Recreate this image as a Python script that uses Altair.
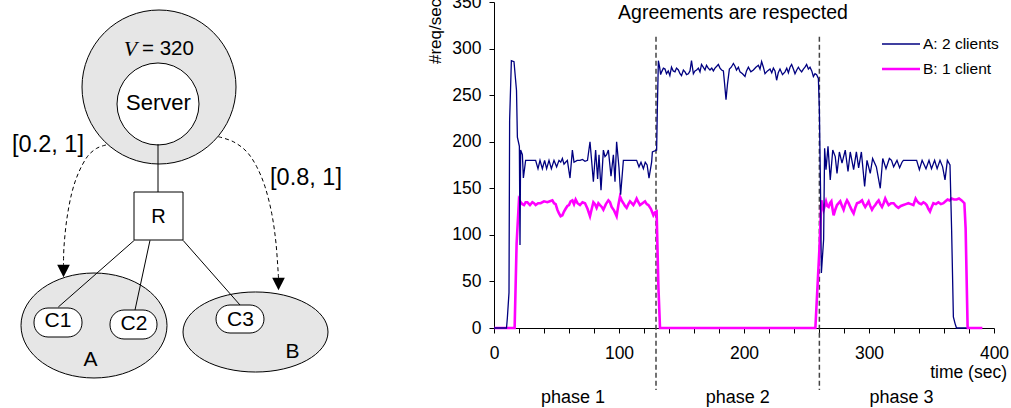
import altair as alt
import pandas as pd

FONT = "Liberation Sans"

# ---------------- chart data (time in s, rate in #req/sec) ----------------
series_a = [  # A: 2 clients (navy)
    (0, 0), (10, 0), (10.7, 11), (12, 38), (12.5, 223), (13.9, 287), (16, 286), (18, 255),
    (18.7, 205), (20.3, 195), (20.8, 89), (21.3, 191), (22.7, 186), (23.5, 161), (25.3, 180),
    (27, 180), (29, 180), (31, 180), (33.3, 180), (35.2, 171), (36.8, 180), (38.7, 171),
    (40.5, 180), (42.1, 171), (44, 180), (45.9, 171), (48, 180), (50.1, 173), (52, 180),
    (53.4, 178), (54.7, 182), (56, 176), (57.3, 178), (58.7, 180), (60.8, 161), (62.7, 191),
    (64, 178), (66.5, 180), (68.8, 180), (70.8, 181), (72.8, 179), (74.8, 180), (76.8, 200),
    (78.2, 178), (79.5, 157), (81.3, 191), (82.9, 160), (84, 186), (85.6, 148), (87.5, 191),
    (88.8, 184), (90.1, 186), (91.5, 191), (93.6, 163), (95.5, 186), (96.8, 157), (98.1, 200),
    (100, 172), (101.3, 143), (103.5, 180), (106, 180), (108.5, 180), (111, 180), (114.1, 180),
    (116, 173), (117.6, 178), (119.5, 171), (121, 178), (122.5, 175), (124, 161), (126.1, 178),
    (126.7, 189), (130.1, 191), (130.7, 237), (131.5, 287), (132.5, 280), (133.3, 272),
    (134.1, 275), (135.5, 279), (136.8, 278), (138, 273), (139.4, 276), (140.7, 271), (142, 280),
    (143.4, 276), (144.8, 275), (146, 279), (147.5, 277), (148.8, 273), (150, 271), (151.5, 277),
    (152.8, 275), (154, 272), (155.5, 273), (156.8, 276), (158, 287), (159.5, 273), (160.8, 276),
    (162.1, 277), (163.5, 279), (164.8, 275), (166, 283), (167.4, 280), (168.8, 277), (170, 282),
    (171.4, 279), (172.8, 277), (174.2, 279), (175.5, 276), (176.8, 279), (178.2, 281),
    (179.5, 283), (180.8, 279), (182.1, 277), (183.5, 276), (184.5, 262), (185.6, 245),
    (186.8, 262), (188.3, 278), (189.8, 280), (191.5, 284), (192.8, 281), (194, 277),
    (195.5, 280), (196.8, 275), (198.8, 273), (200.8, 270), (202, 276), (203.5, 280),
    (205.5, 275), (207.5, 277), (209.5, 280), (211.5, 282), (212.8, 278), (214.1, 286),
    (215.5, 280), (216.8, 273), (218.8, 276), (220.8, 278), (222.2, 274), (223.5, 279),
    (224.8, 276), (226.1, 266), (227.4, 274), (228.8, 278), (230.8, 272), (232.8, 275),
    (234.2, 279), (235.5, 274), (236.8, 280), (238.1, 283), (239.5, 278), (240.8, 273),
    (242.2, 277), (243.5, 280), (244.8, 277), (246.1, 275), (247.5, 278), (248.8, 280),
    (250.1, 283), (251.5, 278), (252.8, 280), (254.2, 276), (255.5, 270), (256.8, 273),
    (258.1, 272), (259.5, 268), (260.3, 234), (261.2, 150), (261.9, 59), (263.7, 95),
    (264.5, 193), (265.6, 170), (267.2, 195), (269, 159), (271, 191), (273, 184), (274.4, 166),
    (276.3, 189), (278.4, 177), (281, 191), (283.2, 168), (285, 189), (287.7, 170), (289.9, 189),
    (291.7, 172), (293.9, 189), (296.5, 152), (298.4, 180), (301, 166), (302.9, 182),
    (305.9, 173), (309, 150), (311, 182), (313.6, 171), (316.3, 182), (318, 180), (319.7, 173),
    (322.4, 180), (324.5, 172), (326.4, 178), (327.5, 180), (338.1, 180), (340.3, 170),
    (342.5, 180), (345.6, 171), (348, 180), (350, 171), (352.5, 180), (354.5, 171), (356.8, 180),
    (358.9, 173), (360.8, 159), (362.7, 180), (364.8, 175), (366.1, 105), (367.5, 12),
    (368.8, 5), (370, 0), (378, 0),
]

series_b = [  # B: 1 client (magenta)
    (0, 0), (16.5, 0), (18.1, 91), (20, 138), (21.3, 135), (22.7, 133), (24, 132), (25.3, 135),
    (26.7, 135), (28.8, 132), (30.7, 135), (32, 134), (33.3, 132), (35.3, 134), (37.3, 134),
    (40, 136), (42.7, 135), (44.7, 136), (46.7, 137), (48, 134), (49.3, 133), (50.7, 127),
    (52, 123), (53.3, 120), (54.7, 121), (56, 125), (57.3, 128), (58.7, 131), (60, 132),
    (61.3, 136), (62.7, 137), (64, 133), (65.3, 138), (66.8, 134), (68.8, 132), (70.8, 135),
    (72.8, 134), (74.8, 128), (76.8, 120), (78.2, 128), (79.5, 135), (80.8, 133), (82.1, 129),
    (83.5, 134), (84.8, 132), (86.2, 130), (87.5, 127), (89.5, 133), (91.5, 137), (92.8, 135),
    (94.1, 130), (96.1, 126), (98.1, 120), (99.5, 132), (100.8, 141), (102.1, 137), (103.5, 134),
    (104.8, 131), (106.1, 129), (107.5, 133), (108.8, 136), (110.2, 134), (111.5, 132),
    (112.8, 135), (114.1, 139), (115.5, 135), (116.8, 132), (118.8, 134), (120.8, 136),
    (122.2, 133), (123.5, 132), (125.5, 128), (127.5, 121), (128.8, 124), (130.1, 125),
    (131.5, 45), (132.8, 0), (257.1, 0), (260.3, 84), (261.9, 137), (263.7, 127), (265.6, 136),
    (266.6, 131), (267.7, 130), (268.8, 134), (269.9, 136), (270.8, 128), (271.7, 121),
    (273, 127), (274.4, 132), (275.7, 134), (277, 136), (278.4, 131), (279.7, 127), (281, 133),
    (282.4, 137), (283.7, 134), (285, 130), (286.4, 126), (287.7, 123), (289, 129), (290.4, 134),
    (292.4, 135), (294.4, 137), (295.7, 133), (297, 130), (298.4, 133), (299.7, 136), (301, 131),
    (302.4, 127), (303.7, 130), (305, 132), (306.4, 135), (307.7, 137), (309, 133), (310.4, 130),
    (311.7, 134), (313, 139), (314.4, 135), (315.7, 132), (317.7, 134), (319.7, 134),
    (321.6, 131), (323.5, 129), (325.5, 131), (327.5, 132), (329.5, 133), (331.5, 134),
    (333.5, 133), (335.5, 132), (337.3, 139), (338.6, 136), (340, 134), (341.8, 133),
    (343.5, 135), (344.8, 134), (346.1, 132), (347.5, 128), (348.8, 125), (350.2, 130),
    (351.5, 134), (353.5, 133), (355.5, 135), (357.5, 133), (359.5, 134), (361.2, 136),
    (362.9, 138), (364.5, 137), (366.1, 139), (368, 138), (370.1, 138), (372, 139), (374.1, 137),
    (376.3, 134), (377.3, 107), (378.9, 0), (390.7, 0),
]

phase_bounds = [129.6, 260.3]
phase_names = ["phase 1", "phase 2", "phase 3"]
phase_centers = [63.2, 195.0, 326.0]
x_ticks = list(range(0, 401, 20))
y_ticks = list(range(0, 351, 50))
legend_labels = ["A: 2 clients", "B: 1 client"]
NAVY = "#000080"
MAGENTA = "#ff00ff"

# ---------------- diagram data (drawing coordinates) ----------------
circle_x = [159, 158]
circle_y = [87, 104]
circle_fill = ["#e6e6e6", "#ffffff"]
circle_diam = [154, 82]

ellipse_x = [94, 255.5]
ellipse_y = [325.5, 332]
ellipse_shape = [
    "M -1 0 A 1 0.719 0 1 1 1 0 A 1 0.719 0 1 1 -1 0 Z",
    "M -1 0 A 1 0.552 0 1 1 1 0 A 1 0.552 0 1 1 -1 0 Z",
]
ellipse_width = [146, 145]

links = [  # x1, y1, x2, y2
    (158, 144, 158, 192),
    (134.3, 240.3, 58.3, 307),
    (150, 240.3, 135, 310),
    (183, 240.3, 240, 305),
]
box = (134, 192, 183, 240)
pills = [  # x1, y1, x2, y2
    (34, 308, 82, 337),
    (110, 310, 157, 339),
    (216, 305, 264, 333),
]
left_arc = [(106, 145), (96.7, 148.3), (87.3, 156.7), (78.3, 173.3), (71.7, 193.3),
            (66.7, 220), (64, 246.7), (63.5, 265)]
right_arc = [(218.3, 136.7), (233.3, 141.7), (246.7, 151.7), (256.7, 166.7), (265, 186.7),
             (271.7, 213.3), (276, 243.3), (278.5, 278)]
arrow_x = [63.5, 278.5]
arrow_y = [271, 284]

labels_text = ["Server", "R", "C1", "C2", "C3", "A", "B", "[0.2, 1]", "[0.8, 1]"]
labels_x = [158.5, 158.5, 58, 134, 240.5, 90.5, 292.5, 48, 306]
labels_y = [103, 216.5, 321, 324, 319.5, 360, 352, 145, 178]
labels_size = [22, 20, 21, 21, 21, 21, 21, 23.5, 23.5]

# ---------------- diagram layers ----------------
DX = alt.Scale(domain=[494, 994], nice=False, zero=False)
DY = alt.Scale(domain=[2, 328], reverse=True, nice=False, zero=False)


def dx(f):
    return alt.X(f"{f}:Q", scale=DX, axis=None)


def dy(f):
    return alt.Y(f"{f}:Q", scale=DY, axis=None)


layers_d = []
for i in range(2):
    layers_d.append(
        alt.Chart(pd.DataFrame({"px": [circle_x[i]], "py": [circle_y[i]]}))
        .mark_point(shape="circle", filled=True, fill=circle_fill[i], stroke="black",
                    strokeWidth=1, size=circle_diam[i] ** 2, opacity=1)
        .encode(x=dx("px"), y=dy("py"))
    )
for i in range(2):
    layers_d.append(
        alt.Chart(pd.DataFrame({"px": [ellipse_x[i]], "py": [ellipse_y[i]]}))
        .mark_point(shape=ellipse_shape[i], filled=True, fill="#e6e6e6", stroke="black",
                    strokeWidth=1, size=ellipse_width[i] ** 2, opacity=1)
        .encode(x=dx("px"), y=dy("py"))
    )
link_df = pd.DataFrame(links, columns=["px", "py", "px2", "py2"])
layers_d.append(
    alt.Chart(link_df).mark_rule(color="black", strokeWidth=1)
    .encode(x=dx("px"), y=dy("py"), x2="px2:Q", y2="py2:Q")
)
box_df = pd.DataFrame([box], columns=["px", "py", "px2", "py2"])
layers_d.append(
    alt.Chart(box_df).mark_rect(fill="white", stroke="black", strokeWidth=1)
    .encode(x=dx("px"), y=dy("py"), x2="px2:Q", y2="py2:Q")
)
pill_df = pd.DataFrame(pills, columns=["px", "py", "px2", "py2"])
layers_d.append(
    alt.Chart(pill_df).mark_rect(fill="white", stroke="black", strokeWidth=1, cornerRadius=14)
    .encode(x=dx("px"), y=dy("py"), x2="px2:Q", y2="py2:Q")
)
arc_rows = []
for name, arc in (("L", left_arc), ("R", right_arc)):
    for k, (a, b) in enumerate(arc):
        arc_rows.append({"arc": name, "k": k, "px": a, "py": b})
layers_d.append(
    alt.Chart(pd.DataFrame(arc_rows))
    .mark_line(color="black", strokeWidth=1, strokeDash=[4, 3], interpolate="cardinal")
    .encode(x=dx("px"), y=dy("py"), detail="arc:N", order="k:Q")
)
layers_d.append(
    alt.Chart(pd.DataFrame({"px": arrow_x, "py": arrow_y}))
    .mark_point(shape="M -1 -1 L 1 -1 L 0 1 Z", filled=True, fill="black", stroke=None,
                size=160, opacity=1)
    .encode(x=dx("px"), y=dy("py"))
)
for t, a, b, s in zip(labels_text, labels_x, labels_y, labels_size):
    layers_d.append(
        alt.Chart(pd.DataFrame({"px": [a], "py": [b], "txt": [t]}))
        .mark_text(font=FONT, fontSize=s, color="black", baseline="middle", align="center")
        .encode(x=dx("px"), y=dy("py"), text="txt:N")
    )
layers_d.append(
    alt.Chart(pd.DataFrame({"px": [130.5], "py": [49], "txt": ["V"]}))
    .mark_text(font="Liberation Serif", fontStyle="italic", fontSize=22, color="black",
               baseline="middle", align="center")
    .encode(x=dx("px"), y=dy("py"), text="txt:N")
)
layers_d.append(
    alt.Chart(pd.DataFrame({"px": [142], "py": [49], "txt": ["= 320"]}))
    .mark_text(font=FONT, fontSize=20.5, color="black", baseline="middle", align="left")
    .encode(x=dx("px"), y=dy("py"), text="txt:N")
)
diagram = alt.layer(*layers_d)

# ---------------- line chart layers ----------------
X = alt.X("t:Q", scale=alt.Scale(domain=[0, 400], nice=False, zero=True),
          axis=alt.Axis(title=None, values=x_ticks,
                        labelExpr="datum.value % 100 === 0 ? datum.label : ''",
                        labelFlush=False, labelOverlap=False, tickSize=5, labelPadding=11,
                        grid=False))
Y = alt.Y("v:Q", scale=alt.Scale(domain=[0, 350], nice=False, zero=True),
          axis=alt.Axis(title=None, values=y_ticks, labelFlush=False, labelOverlap=False,
                        tickSize=5, labelPadding=8, grid=False))

df_a = pd.DataFrame(series_a, columns=["t", "v"])
df_b = pd.DataFrame(series_b, columns=["t", "v"])

line_b = alt.Chart(df_b).mark_line(color=MAGENTA, strokeWidth=2.6).encode(x=X, y=Y)
line_a = alt.Chart(df_a).mark_line(color=NAVY, strokeWidth=1.3).encode(x=X, y=Y)

bounds = (
    alt.Chart(pd.DataFrame({"t": phase_bounds}))
    .mark_rule(color="#444444", strokeWidth=1.5, strokeDash=[5, 3])
    .encode(x=X, y=alt.datum(312.7), y2=alt.datum(-66.6))
)
phases = (
    alt.Chart(pd.DataFrame({"t": phase_centers, "name": phase_names}))
    .mark_text(font=FONT, fontSize=18, color="black", baseline="middle")
    .encode(x=X, y=alt.value(396), text="name:N")
)

texts = []
texts.append(
    alt.Chart(pd.DataFrame({"s": ["Agreements are respected"]}))
    .mark_text(font=FONT, fontSize=19.5, color="black", baseline="alphabetic", align="center")
    .encode(x=alt.value(239), y=alt.value(17), text="s:N")
)
texts.append(
    alt.Chart(pd.DataFrame({"s": ["time (sec)"]}))
    .mark_text(font=FONT, fontSize=17.5, color="black", baseline="middle", align="right")
    .encode(x=alt.value(513), y=alt.value(371), text="s:N")
)
texts.append(
    alt.Chart(pd.DataFrame({"s": ["#req/sec"]}))
    .mark_text(font=FONT, fontSize=17, color="black", baseline="middle", align="left",
               angle=270)
    .encode(x=alt.value(-58), y=alt.value(62), text="s:N")
)
# legend
leg_y = [42, 67]
leg_col = [NAVY, MAGENTA]
leg_w = [1.3, 2.6]
for lab, yy, col, w in zip(legend_labels, leg_y, leg_col, leg_w):
    texts.append(
        alt.Chart(pd.DataFrame({"s": [lab]}))
        .mark_rule(color=col, strokeWidth=w)
        .encode(x=alt.value(388), x2=alt.value(426), y=alt.value(yy))
    )
    texts.append(
        alt.Chart(pd.DataFrame({"s": [lab]}))
        .mark_text(font=FONT, fontSize=15.5, color="black", baseline="middle", align="left")
        .encode(x=alt.value(429), y=alt.value(yy), text="s:N")
    )

plot = alt.layer(bounds, line_b, line_a, phases, *texts)

chart = (
    alt.layer(diagram, plot)
    .resolve_scale(x="independent", y="independent")
    .properties(width=500, height=326,
                padding={"left": 494, "top": 2, "right": 17, "bottom": 80},
                autosize=alt.AutoSizeParams(type="none"))
    .configure_view(stroke=None)
    .configure_axis(domainColor="black", tickColor="black", labelColor="black",
                    labelFont=FONT, labelFontSize=17.5, domainWidth=1, tickWidth=1)
)

chart.save("out.html", embed_options={"renderer": "svg", "actions": False})
